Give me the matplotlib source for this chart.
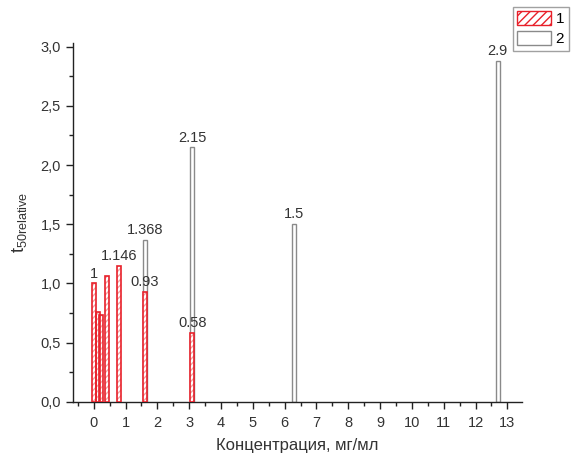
import numpy as np
import matplotlib.pyplot as plt
from matplotlib.patches import Patch
from matplotlib.ticker import MultipleLocator, FuncFormatter

plt.rcParams['font.family'] = ['Liberation Sans', 'DejaVu Sans']

# series 1 (red, hatched)
x1 = [0.0, 0.13, 0.23, 0.42, 0.8, 1.6, 3.1]
h1 = [1.0, 0.76, 0.73, 1.065, 1.146, 0.93, 0.58]
lab1 = {0: '1', 4: '1.146', 5: '0.93', 6: '0.58'}

# series 2 (gray outline)
x2 = [1.6, 3.1, 6.3, 12.7]
h2 = [1.368, 2.15, 1.5, 2.88]
lab2 = ['1.368', '2.15', '1.5', '2.9']

w = 0.13
red = '#e8202a'
gray = '#8a8a8a'
txt = '#333333'

fig = plt.figure(figsize=(5.73, 4.54), dpi=100)
ax = fig.add_axes([0.127, 0.115, 0.784, 0.79])

ax.bar(x2, h2, width=w, facecolor='white', edgecolor=gray, linewidth=1.0, zorder=2)
ax.bar(x1, h1, width=w, facecolor='white', edgecolor='#f3a3a3', hatch='//////',
       linewidth=0, zorder=3)
ax.bar(x1, h1, width=w, facecolor='none', edgecolor=red, linewidth=1.2, zorder=4)

for i, s in lab1.items():
    ax.annotate(s, (x1[i], h1[i]), xytext=(0, 2), textcoords='offset points',
                ha='center', va='bottom', fontsize=10.5, color=txt, zorder=5)
for xi, hi, s in zip(x2, h2, lab2):
    ax.annotate(s, (xi, hi), xytext=(0, 2), textcoords='offset points',
                ha='center', va='bottom', fontsize=10.5, color=txt, zorder=5,
                annotation_clip=False)

ax.set_xlim(-0.66, 13.46)
ax.set_ylim(0, 3.03)
ax.xaxis.set_major_locator(MultipleLocator(1))
ax.xaxis.set_minor_locator(MultipleLocator(0.5))
ax.yaxis.set_major_locator(MultipleLocator(0.5))
ax.yaxis.set_minor_locator(MultipleLocator(0.25))
ax.yaxis.set_major_formatter(FuncFormatter(lambda v, p: f'{v:.1f}'.replace('.', ',')))
ax.tick_params(which='both', direction='out', colors='#222222', labelcolor=txt,
               labelsize=10.5, width=1.0)
ax.tick_params(which='major', length=5)
ax.tick_params(which='minor', length=3)
ax.tick_params(axis='x', which='major', pad=5)

for s in ['top', 'right']:
    ax.spines[s].set_visible(False)
for s in ['left', 'bottom']:
    ax.spines[s].set_color('#222222')
    ax.spines[s].set_linewidth(1.0)

ax.set_xlabel('Концентрация, мг/мл', fontsize=12, color=txt, labelpad=6)
ax.set_ylabel(r'$\mathregular{t_{50relative}}$', fontsize=13, color=txt, labelpad=8)

handles = [Patch(facecolor='white', edgecolor=red, hatch='////', label='1'),
           Patch(facecolor='white', edgecolor=gray, label='2')]
fig.legend(handles=handles, loc='upper left', bbox_to_anchor=(0.895, 0.985),
           frameon=True, fancybox=False, edgecolor=gray, fontsize=11,
           handlelength=2.2, handleheight=1.0, borderpad=0.3, labelspacing=0.3,
           handletextpad=0.3, borderaxespad=0)

fig.savefig('out.png', dpi=100)
